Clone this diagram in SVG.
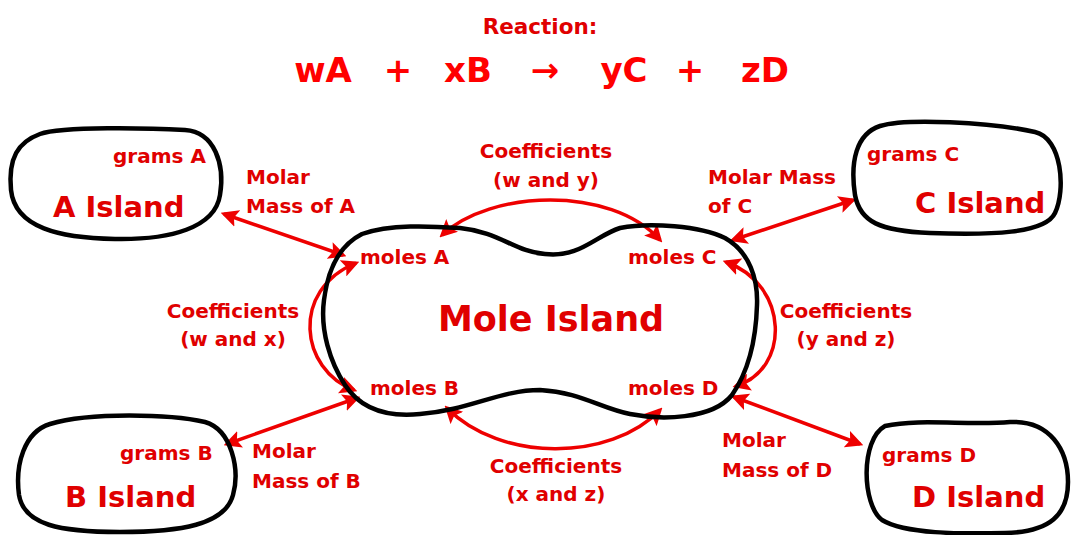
<svg xmlns="http://www.w3.org/2000/svg" width="1071" height="535" viewBox="0 0 1071 535">
<defs>
<marker id="ah" viewBox="0 0 10 10" refX="8" refY="5" markerWidth="5" markerHeight="5" orient="auto-start-reverse" markerUnits="strokeWidth">
<path d="M0,0 L10,5 L0,10 L2,5 Z" fill="#EE0000"/>
</marker>
</defs>
<style>
.blob{fill:none;stroke:#000;stroke-width:4.5;stroke-linejoin:round;stroke-linecap:round}
.t{font-family:"DejaVu Sans","Liberation Sans",sans-serif;font-weight:bold;fill:#E00000}
.s{font-size:20px}
.big{font-size:29px}
.eq{font-size:34px;fill:#FF0000}
.c{stroke:#EE0000;stroke-width:3.5;fill:none;marker-start:url(#ah);marker-end:url(#ah)}
</style>
<rect width="1071" height="535" fill="#fff"/>
<g id="title">
<text class="t" x="540" y="34" font-size="21.5" text-anchor="middle" fill="#FF0000">Reaction:</text>
<text class="t eq" x="323" y="82" text-anchor="middle">wA</text>
<text class="t eq" x="398" y="82" text-anchor="middle">+</text>
<text class="t eq" x="468" y="82" text-anchor="middle">xB</text>
<text class="t eq" x="545" y="82" text-anchor="middle" font-weight="normal">→</text>
<text class="t eq" x="624" y="82" text-anchor="middle">yC</text>
<text class="t eq" x="690" y="82" text-anchor="middle">+</text>
<text class="t eq" x="765" y="82" text-anchor="middle">zD</text>
</g>
<g id="connectors">
<line class="c" x1="224" y1="214" x2="343" y2="255"/>
<line class="c" x1="853" y1="200" x2="733" y2="240"/>
<line class="c" x1="227" y1="444" x2="357" y2="398"/>
<line class="c" x1="734" y1="397" x2="860" y2="444"/>
<path class="c" d="M442,235 C490,190 610,185 660,240"/>
<path class="c" d="M447,408 C500,462 610,462 660,410"/>
<path class="c" d="M356,263 C290,290 300,370 354,390"/>
<path class="c" d="M726,262 C790,285 790,370 736,386"/>
</g>
<g id="edge-labels">
<text class="t s" x="246" y="184">Molar</text>
<text class="t s" x="246" y="213">Mass of A</text>
<text class="t s" x="708" y="184">Molar Mass</text>
<text class="t s" x="708" y="213">of C</text>
<text class="t s" x="252" y="458">Molar</text>
<text class="t s" x="252" y="488">Mass of B</text>
<text class="t s" x="722" y="447">Molar</text>
<text class="t s" x="722" y="477">Mass of D</text>
<text class="t s" x="546" y="158" text-anchor="middle">Coefficients</text>
<text class="t s" x="546" y="187" text-anchor="middle">(w and y)</text>
<text class="t s" x="556" y="473" text-anchor="middle">Coefficients</text>
<text class="t s" x="556" y="501" text-anchor="middle">(x and z)</text>
<text class="t s" x="233" y="318" text-anchor="middle">Coefficients</text>
<text class="t s" x="233" y="346" text-anchor="middle">(w and x)</text>
<text class="t s" x="846" y="318" text-anchor="middle">Coefficients</text>
<text class="t s" x="846" y="346" text-anchor="middle">(y and z)</text>
</g>
<g id="a-island">
<path class="blob" d="M40,134 C62,126 150,128 185,130 C215,132 225,165 220,195 C215,228 170,240 115,239 C60,238 15,228 11,190 C8,158 18,142 40,134 Z"/>
<text class="t s" x="113" y="163">grams A</text>
<text class="t big" x="53" y="217">A Island</text>
</g>
<g id="c-island">
<path class="blob" d="M880,126 C905,118 990,122 1035,132 C1062,138 1066,190 1055,213 C1045,234 990,235 930,233 C880,231 860,222 855,195 C850,162 856,134 880,126 Z"/>
<text class="t s" x="867" y="161">grams C</text>
<text class="t big" x="915" y="213">C Island</text>
</g>
<g id="b-island">
<path class="blob" d="M50,424 C90,412 170,414 205,422 C232,430 240,470 233,495 C225,525 180,532 120,532 C60,532 24,525 19,495 C15,465 24,432 50,424 Z"/>
<text class="t s" x="120" y="460">grams B</text>
<text class="t big" x="65" y="507">B Island</text>
</g>
<g id="d-island">
<path class="blob" d="M885,426 C920,418 970,426 1010,422 C1050,420 1068,450 1068,482 C1068,515 1050,532 1005,533 C960,534 905,534 882,520 C862,505 860,440 885,426 Z"/>
<text class="t s" x="882" y="462">grams D</text>
<text class="t big" x="912" y="507">D Island</text>
</g>
<g id="mole-island">
<path class="blob" d="M362,234 C390,224 430,226 460,228 C500,232 515,252 545,254 C580,258 595,236 620,228 C650,222 700,226 725,238 C750,252 758,280 757,305 C756,340 748,372 732,395 C712,420 660,420 630,414 C600,408 580,392 540,390 C500,390 470,410 420,414 C380,418 358,405 345,385 C330,362 320,330 324,300 C328,268 340,245 362,234 Z"/>
<text class="t s" x="360" y="264">moles A</text>
<text class="t s" x="628" y="264">moles C</text>
<text class="t s" x="370" y="395">moles B</text>
<text class="t s" x="628" y="395">moles D</text>
<text class="t" x="551" y="331" font-size="35" text-anchor="middle">Mole Island</text>
</g>
</svg>
